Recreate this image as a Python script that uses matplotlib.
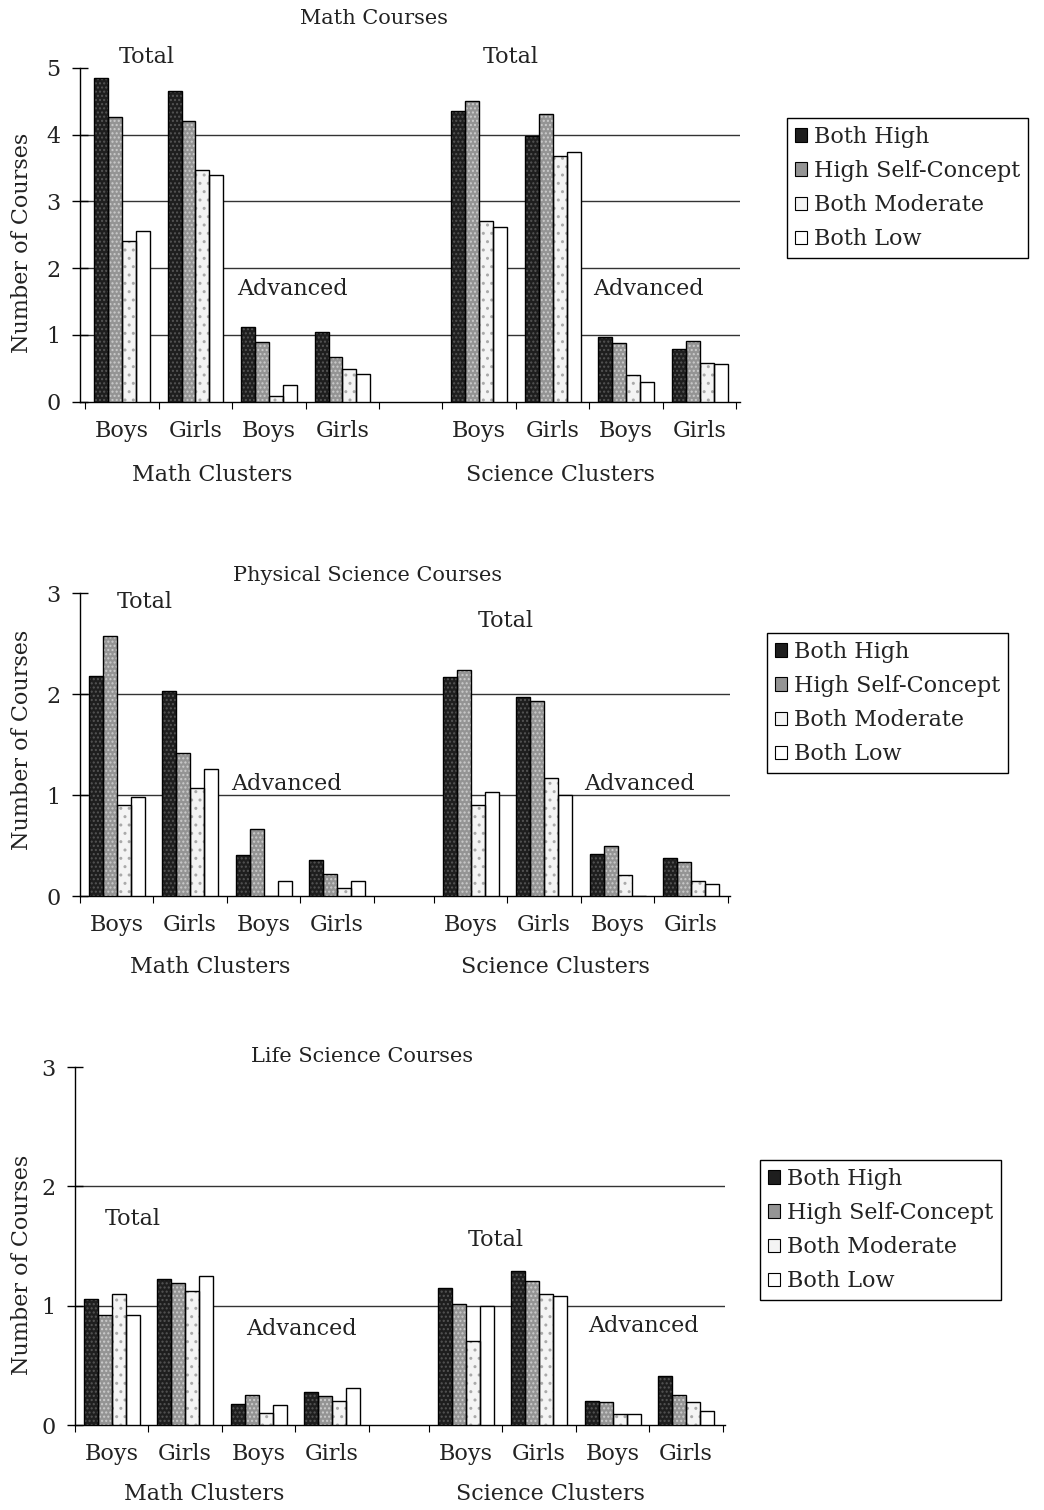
import numpy as np
import matplotlib
matplotlib.use('Agg')
import matplotlib.pyplot as plt
from matplotlib.patches import Patch

plt.rcParams['font.family'] = ['DejaVu Serif']

SERIES = ["Both High", "High Self-Concept", "Both Moderate", "Both Low"]
GROUPS = ["Boys", "Girls", "Boys", "Girls", "Boys", "Girls", "Boys", "Girls"]

# order: math total boys, girls, math adv boys, girls, science total boys, girls, science adv boys, girls
MATH_BOTH_HIGH = [4.85, 4.65, 1.11, 1.04, 4.36, 3.98, 0.96, 0.78]
MATH_HIGH_SC = [4.26, 4.21, 0.89, 0.67, 4.51, 4.31, 0.87, 0.91]
MATH_BOTH_MOD = [2.41, 3.47, 0.08, 0.48, 2.70, 3.68, 0.39, 0.58]
MATH_BOTH_LOW = [2.56, 3.40, 0.24, 0.41, 2.61, 3.74, 0.29, 0.56]

PHYS_BOTH_HIGH = [2.18, 2.03, 0.41, 0.36, 2.17, 1.97, 0.42, 0.38]
PHYS_HIGH_SC = [2.57, 1.42, 0.66, 0.22, 2.24, 1.93, 0.50, 0.34]
PHYS_BOTH_MOD = [0.90, 1.07, 0.00, 0.08, 0.90, 1.17, 0.21, 0.15]
PHYS_BOTH_LOW = [0.98, 1.26, 0.15, 0.15, 1.03, 1.00, 0.00, 0.12]

LIFE_BOTH_HIGH = [1.06, 1.22, 0.18, 0.28, 1.15, 1.29, 0.20, 0.41]
LIFE_HIGH_SC = [0.92, 1.19, 0.25, 0.24, 1.01, 1.21, 0.19, 0.25]
LIFE_BOTH_MOD = [1.10, 1.12, 0.10, 0.20, 0.70, 1.10, 0.09, 0.19]
LIFE_BOTH_LOW = [0.92, 1.25, 0.17, 0.31, 1.00, 1.08, 0.09, 0.12]

FILLS = ['#1e1e1e', '#949494', '#f4f4f4', 'white']
HATCHES = ['....', '....', '..', '']
HCOLS = ['#555555', '#cccccc', '#aaaaaa', 'white']
TXT = '#222222'
W, H = 1044, 1510
FS = 15

def fx(px):
	return px / W

def fy(py):
	return 1 - py / H

def draw_panel(fig, rect, ymax, series, gap, xlim, title, labels, legend_pos):
	ax = fig.add_axes(rect)
	pos = np.array([0, 1, 2, 3, gap, gap + 1, gap + 2, gap + 3])
	offs = [-0.285, -0.095, 0.095, 0.285]
	for i, vals in enumerate(series):
		ax.bar(pos + offs[i], vals, 0.19, color=FILLS[i], edgecolor=HCOLS[i],
			hatch=HATCHES[i], linewidth=0, zorder=3)
		ax.bar(pos + offs[i], vals, 0.19, fill=False, edgecolor='black',
			linewidth=1.0, zorder=4)
	for y in range(1, ymax):
		ax.axhline(y, color='#333333', linewidth=1.0, zorder=1)
	ax.set_xlim(xlim)
	ax.set_ylim(0, ymax)
	for s in ['top', 'right']:
		ax.spines[s].set_visible(False)
	ax.spines['left'].set_linewidth(1.0)
	ax.spines['bottom'].set_linewidth(1.0)
	ax.set_yticks(range(0, ymax + 1))
	ax.tick_params(axis='y', direction='inout', length=12, width=1.0, pad=8,
		labelsize=FS + 1, labelcolor=TXT)
	bounds = [-0.5, 0.5, 1.5, 2.5, 3.5, gap - 0.5, gap + 0.5, gap + 1.5, gap + 2.5, gap + 3.5]
	ax.set_xticks(bounds)
	ax.set_xticklabels([])
	ax.tick_params(axis='x', which='major', direction='out', length=5, width=0.8)
	ax.set_xticks(pos, minor=True)
	ax.set_xticklabels(GROUPS, minor=True)
	ax.tick_params(axis='x', which='minor', length=0, pad=13, labelsize=FS + 1, labelcolor=TXT)

	fig.text(fx(title[1]), fy(title[2]), title[0], ha='center', va='center', fontsize=FS, color=TXT)
	for t, x, y in labels:
		fig.text(fx(x), fy(y), t, ha='center', va='center', fontsize=FS + 1, color=TXT)

	handles = [Patch(facecolor=FILLS[i], edgecolor='black', linewidth=0.8) for i in range(4)]
	leg = fig.legend(handles, SERIES, loc='upper left', bbox_to_anchor=legend_pos,
		bbox_transform=fig.transFigure, borderaxespad=0, fontsize=FS + 1,
		handlelength=0.55, handleheight=0.55, handletextpad=0.3, labelspacing=0.55,
		borderpad=0.35, fancybox=False, framealpha=1)
	leg.get_frame().set_edgecolor('black')
	leg.get_frame().set_linewidth(1.0)
	for t in leg.get_texts():
		t.set_color(TXT)
	return ax

fig = plt.figure(figsize=(W / 100, H / 100), dpi=100)

# panel 1: math courses
draw_panel(fig, [fx(80), fy(401.5), fx(660), 333.5 / H], 5,
	[MATH_BOTH_HIGH, MATH_HIGH_SC, MATH_BOTH_MOD, MATH_BOTH_LOW], 4.86, (-0.571, 8.408),
	("Math Courses", 374, 19),
	[("Total", 147, 57), ("Total", 511, 57), ("Advanced", 292, 289), ("Advanced", 648, 289),
	 ("Math Clusters", 212, 475), ("Science Clusters", 560, 475)],
	(fx(787), fy(118)))

# panel 2: physical science courses
draw_panel(fig, [fx(80), fy(896), fx(650), 303 / H], 3,
	[PHYS_BOTH_HIGH, PHYS_HIGH_SC, PHYS_BOTH_MOD, PHYS_BOTH_LOW], 4.82, (-0.49, 8.35),
	("Physical Science Courses", 368, 575),
	[("Total", 145, 602), ("Total", 506, 621), ("Advanced", 286, 784), ("Advanced", 639, 784),
	 ("Math Clusters", 210, 967), ("Science Clusters", 555, 967)],
	(fx(767), fy(633)))

# panel 3: life science courses
draw_panel(fig, [fx(75), fy(1425), fx(650), 358 / H], 3,
	[LIFE_BOTH_HIGH, LIFE_HIGH_SC, LIFE_BOTH_MOD, LIFE_BOTH_LOW], 4.82, (-0.49, 8.35),
	("Life Science Courses", 362, 1057),
	[("Total", 133, 1219), ("Total", 496, 1240), ("Advanced", 301, 1329), ("Advanced", 643, 1326),
	 ("Math Clusters", 204, 1494), ("Science Clusters", 550, 1494)],
	(fx(760), fy(1160)))

for yc in [243, 740, 1265]:
	fig.text(fx(22), fy(yc), "Number of Courses", rotation=90, ha='center', va='center',
		fontsize=FS + 1, color=TXT)

plt.savefig("out.png", dpi=100)
plt.close()
